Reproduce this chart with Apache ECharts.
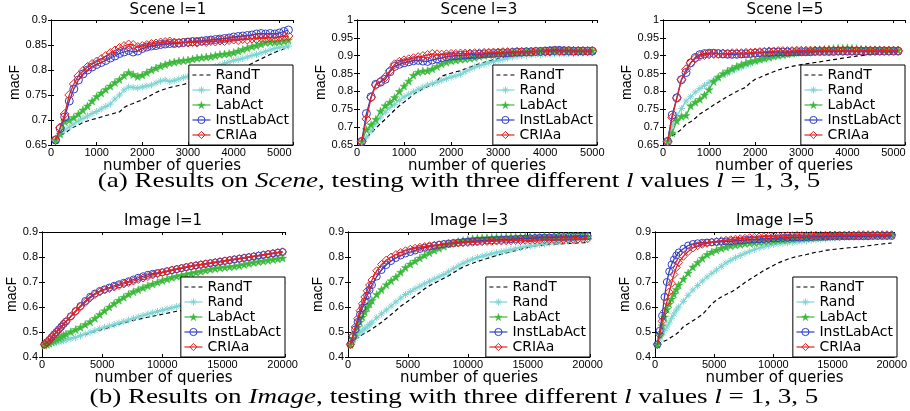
<!DOCTYPE html>
<html><head><meta charset="utf-8">
<script src="https://cdn.jsdelivr.net/npm/echarts@6/dist/echarts.min.js"></script>
<style>html,body{margin:0;padding:0;background:#fff}#c{width:910px;height:411px}</style>
</head><body><div id="c"></div>
<script>
const seriesNames = ['RandT','Rand','LabAct','InstLabAct','CRIAa'];

// number of queries (x values)
const sceneQueries = [100,200,300,400,500,600,700,800,900,1000,1100,1200,1300,1400,1500,1600,1700,1800,1900,2000,2100,2200,2300,2400,2500,2600,2700,2800,2900,3000,3100,3200,3300,3400,3500,3600,3700,3800,3900,4000,4100,4200,4300,4400,4500,4600,4700,4800,4900,5000,5100,5200];
const imageQueries = [200,400,600,800,1000,1200,1400,1600,1800,2000,2400,2800,3200,3600,4000,4400,4800,5200,5600,6000,6400,6800,7200,7600,8000,8400,8800,9200,9600,10000,10400,10800,11200,11600,12000,12400,12800,13200,13600,14000,14400,14800,15200,15600,16000,16400,16800,17200,17600,18000,18400,18800,19200,19600,20000];

// Scene l=1
const s1RandT = [.660,.668,.674,.680,.686,.690,.695,.698,.701,.703,.706,.709,.711,.714,.716,.725,.730,.733,.737,.740,.745,.750,.755,.759,.762,.765,.767,.769,.771,.774,.776,.778,.780,.782,.784,.786,.789,.791,.794,.797,.801,.805,.809,.813,.818,.822,.827,.831,.835,.839,.842,.845];
const s1Rand = [.660,.672,.680,.686,.692,.698,.703,.708,.713,.717,.722,.727,.732,.742,.750,.760,.766,.765,.764,.766,.768,.770,.774,.778,.780,.777,.779,.782,.785,.787,.791,.795,.799,.801,.804,.807,.810,.813,.816,.819,.821,.823,.826,.829,.831,.834,.837,.840,.843,.845,.846,.848];
const s1LabAct = [.660,.672,.697,.700,.705,.712,.720,.728,.738,.747,.754,.761,.768,.775,.781,.789,.795,.791,.787,.790,.795,.800,.804,.808,.811,.814,.816,.818,.819,.820,.822,.824,.825,.826,.827,.829,.831,.832,.833,.835,.838,.841,.844,.847,.849,.852,.855,.856,.856,.857,.858,.860];
const s1InstLabAct = [.660,.683,.706,.738,.762,.780,.792,.800,.806,.811,.815,.819,.824,.828,.833,.836,.839,.836,.838,.843,.846,.848,.849,.851,.852,.853,.853,.854,.855,.856,.857,.857,.858,.859,.860,.861,.862,.863,.864,.866,.867,.868,.869,.870,.872,.873,.872,.873,.872,.874,.877,.880];
const s1CRIAa = [.660,.685,.712,.750,.772,.788,.798,.806,.812,.817,.822,.828,.834,.839,.844,.848,.851,.850,.846,.848,.850,.852,.853,.855,.856,.857,.855,.854,.855,.855,.856,.855,.857,.856,.858,.857,.859,.858,.860,.861,.860,.862,.861,.863,.862,.864,.863,.865,.864,.866,.867,.868];

// Scene l=3
const s3RandT = [.660,.672,.683,.697,.710,.722,.735,.748,.760,.770,.780,.792,.800,.808,.813,.818,.830,.843,.847,.851,.855,.858,.863,.868,.873,.877,.881,.885,.889,.892,.895,.898,.900,.902,.904,.905,.906,.907,.908,.909,.909,.910,.910,.911,.911,.911,.912,.912,.912,.912];
const s3Rand = [.660,.672,.690,.710,.728,.742,.755,.764,.775,.785,.792,.799,.806,.812,.818,.822,.826,.831,.836,.840,.844,.848,.855,.862,.868,.872,.876,.880,.884,.887,.890,.893,.896,.898,.900,.901,.902,.903,.903,.904,.904,.905,.905,.905,.906,.906,.907,.907,.908,.908];
const s3LabAct = [.660,.693,.707,.722,.745,.760,.770,.783,.800,.815,.829,.845,.854,.857,.858,.863,.870,.877,.882,.886,.888,.890,.891,.893,.895,.898,.901,.903,.904,.906,.907,.908,.909,.909,.910,.911,.912,.912,.913,.914,.915,.915,.916,.916,.915,.915,.914,.914,.914,.914];
const s3InstLabAct = [.660,.738,.785,.820,.826,.834,.855,.870,.876,.880,.883,.886,.887,.885,.884,.888,.891,.894,.897,.899,.900,.901,.902,.903,.903,.904,.905,.906,.906,.907,.908,.908,.909,.910,.910,.911,.911,.912,.912,.913,.914,.915,.915,.914,.914,.913,.913,.913,.913,.913];
const s3CRIAa = [.660,.723,.783,.818,.828,.840,.858,.876,.883,.887,.890,.893,.896,.899,.902,.905,.904,.903,.904,.905,.905,.906,.906,.906,.907,.907,.908,.908,.909,.909,.910,.910,.910,.911,.911,.911,.911,.912,.912,.912,.912,.913,.913,.913,.913,.913,.913,.913,.913,.913];

// Scene l=5
const s5RandT = [.660,.675,.684,.694,.708,.715,.725,.737,.745,.753,.762,.770,.778,.786,.793,.800,.806,.812,.825,.834,.839,.845,.850,.855,.860,.864,.867,.870,.873,.875,.877,.879,.881,.883,.885,.887,.889,.891,.893,.895,.897,.899,.900,.902,.904,.906,.908,.909,.910,.911,.912];
const s5Rand = [.660,.705,.733,.752,.773,.785,.798,.808,.817,.825,.832,.839,.845,.851,.857,.863,.868,.873,.878,.883,.887,.891,.894,.897,.900,.902,.904,.906,.907,.908,.909,.910,.911,.911,.912,.912,.913,.913,.913,.914,.914,.914,.914,.915,.915,.915,.915,.915,.915,.915,.915];
const s5LabAct = [.660,.684,.718,.730,.733,.760,.770,.778,.790,.805,.828,.840,.850,.857,.864,.870,.875,.880,.884,.887,.890,.893,.896,.899,.901,.903,.905,.907,.909,.911,.913,.915,.916,.917,.918,.919,.920,.921,.921,.922,.921,.920,.919,.918,.917,.917,.917,.916,.916,.916,.916];
const s5InstLabAct = [.660,.734,.782,.833,.853,.880,.895,.903,.906,.907,.907,.906,.905,.904,.904,.904,.905,.905,.906,.907,.908,.909,.909,.910,.910,.910,.910,.911,.911,.911,.911,.911,.912,.912,.912,.912,.912,.913,.913,.913,.913,.913,.913,.913,.913,.913,.913,.913,.913,.913,.913];
const s5CRIAa = [.660,.727,.782,.833,.862,.880,.892,.899,.902,.904,.905,.905,.906,.906,.907,.907,.907,.908,.908,.909,.910,.911,.912,.912,.913,.913,.913,.913,.914,.914,.914,.914,.914,.914,.914,.914,.914,.914,.914,.914,.914,.914,.914,.914,.914,.914,.914,.914,.914,.914,.914];

// Image l=1
const i1RandT = [.447,.450,.452,.455,.457,.460,.462,.465,.467,.470,.475,.480,.485,.490,.496,.502,.507,.513,.519,.525,.531,.537,.542,.547,.551,.555,.559,.563,.567,.571,.575,.579,.583,.586,.589,.593,.597,.601,.605,.610,.615,.620,.625,.630,.635,.640,.645,.650,.655,.660,.665,.670,.676,.682,.688];
const i1Rand = [.447,.450,.452,.454,.456,.459,.461,.463,.465,.468,.473,.478,.485,.492,.499,.506,.513,.519,.524,.530,.536,.542,.548,.554,.560,.566,.572,.577,.582,.587,.592,.597,.602,.607,.612,.616,.620,.624,.628,.632,.636,.640,.644,.648,.652,.656,.660,.664,.668,.672,.676,.680,.685,.691,.697];
const i1LabAct = [.447,.451,.455,.461,.466,.471,.476,.481,.487,.492,.501,.510,.519,.530,.541,.555,.570,.585,.600,.614,.627,.639,.651,.661,.669,.677,.685,.692,.699,.706,.712,.718,.723,.727,.731,.735,.739,.743,.747,.751,.754,.757,.759,.761,.763,.766,.770,.774,.778,.781,.784,.787,.790,.793,.796];
const i1InstLabAct = [.450,.459,.468,.479,.490,.500,.510,.521,.532,.542,.563,.584,.604,.624,.641,.654,.664,.671,.678,.685,.691,.697,.703,.710,.717,.723,.729,.733,.736,.739,.743,.747,.751,.755,.759,.763,.766,.769,.772,.775,.778,.781,.784,.787,.790,.793,.796,.799,.802,.805,.808,.811,.814,.817,.820];
const i1CRIAa = [.450,.459,.468,.479,.490,.500,.510,.521,.532,.542,.562,.582,.601,.619,.636,.650,.660,.668,.674,.680,.686,.692,.698,.704,.710,.716,.722,.728,.733,.738,.743,.748,.752,.756,.760,.764,.767,.770,.773,.776,.779,.782,.785,.788,.791,.794,.797,.800,.803,.806,.809,.812,.815,.818,.821];

// Image l=3
const i3RandT = [.450,.461,.470,.477,.484,.490,.495,.500,.506,.512,.525,.539,.554,.570,.586,.603,.617,.630,.644,.658,.673,.685,.695,.705,.715,.725,.737,.749,.760,.768,.775,.782,.788,.794,.800,.806,.811,.816,.821,.826,.831,.836,.840,.844,.846,.848,.850,.851,.852,.853,.854,.855,.856,.857,.858];
const i3Rand = [.450,.463,.475,.486,.497,.505,.513,.521,.530,.539,.557,.573,.588,.604,.620,.636,.650,.662,.673,.683,.693,.703,.712,.721,.730,.741,.753,.764,.775,.784,.791,.798,.803,.808,.813,.817,.821,.825,.829,.833,.837,.841,.844,.847,.850,.853,.856,.858,.860,.862,.864,.867,.869,.871,.874];
const i3LabAct = [.450,.474,.497,.519,.540,.560,.580,.597,.612,.626,.650,.670,.689,.705,.720,.739,.758,.772,.784,.796,.807,.817,.827,.835,.843,.851,.857,.862,.866,.870,.873,.875,.876,.877,.878,.879,.879,.880,.880,.880,.881,.881,.881,.881,.882,.882,.882,.882,.883,.883,.883,.883,.883,.883,.883];
const i3InstLabAct = [.450,.480,.510,.540,.570,.597,.623,.646,.668,.688,.722,.748,.768,.784,.796,.806,.814,.820,.826,.832,.837,.841,.845,.849,.852,.854,.856,.858,.860,.861,.863,.864,.865,.866,.867,.868,.869,.870,.871,.872,.873,.874,.875,.876,.877,.878,.878,.879,.880,.880,.881,.881,.882,.882,.883];
const i3CRIAa = [.450,.485,.520,.553,.585,.613,.640,.665,.688,.708,.745,.770,.788,.800,.810,.818,.825,.831,.835,.839,.842,.845,.847,.849,.851,.853,.855,.856,.857,.858,.859,.860,.861,.862,.863,.864,.864,.865,.865,.866,.866,.867,.867,.868,.868,.869,.869,.870,.870,.870,.871,.871,.872,.872,.873];

// Image l=5
const i5RandT = [.450,.455,.460,.464,.468,.474,.480,.486,.492,.500,.521,.533,.545,.557,.570,.590,.612,.628,.640,.650,.659,.670,.684,.698,.710,.722,.734,.746,.756,.766,.776,.784,.791,.797,.802,.806,.810,.815,.819,.822,.826,.829,.831,.833,.835,.837,.838,.840,.842,.845,.847,.850,.852,.854,.856];
const i5Rand = [.450,.468,.488,.505,.520,.537,.555,.572,.588,.600,.623,.647,.668,.686,.704,.720,.735,.748,.763,.776,.787,.797,.806,.815,.823,.830,.836,.841,.846,.850,.853,.855,.857,.859,.861,.863,.865,.867,.869,.871,.873,.875,.877,.878,.879,.880,.881,.882,.883,.884,.885,.885,.886,.886,.887];
const i5LabAct = [.450,.490,.525,.560,.590,.612,.632,.652,.670,.688,.712,.736,.760,.778,.795,.810,.820,.828,.835,.840,.845,.848,.851,.854,.856,.858,.860,.862,.864,.866,.868,.869,.871,.872,.874,.875,.876,.877,.879,.880,.881,.882,.883,.884,.884,.885,.886,.886,.887,.887,.888,.888,.888,.889,.889];
const i5InstLabAct = [.450,.505,.565,.640,.700,.742,.770,.790,.806,.818,.833,.846,.852,.855,.857,.858,.859,.860,.861,.862,.863,.865,.866,.868,.869,.870,.871,.872,.873,.874,.875,.876,.877,.878,.879,.879,.880,.880,.881,.881,.881,.882,.882,.882,.883,.883,.883,.883,.883,.883,.884,.884,.884,.884,.884];
const i5CRIAa = [.450,.490,.543,.582,.620,.660,.695,.730,.758,.778,.803,.822,.836,.845,.851,.855,.859,.862,.865,.867,.869,.871,.873,.875,.877,.879,.880,.881,.882,.883,.884,.884,.885,.885,.886,.886,.886,.887,.887,.887,.887,.888,.888,.888,.888,.888,.888,.889,.889,.889,.889,.889,.889,.889,.889];

// layout / styling
const panels = [
  {title:'Scene l=1', q:sceneQueries, vals:[s1RandT,s1Rand,s1LabAct,s1InstLabAct,s1CRIAa], grid:{left:51,top:20,width:242,height:125}, xMax:5300, xInt:1000, yMin:0.65, yMax:0.9, yInt:0.05, tx:168, ty:10.5, yGap:28, xGap:6, big:true},
  {title:'Scene l=3', q:sceneQueries, vals:[s3RandT,s3Rand,s3LabAct,s3InstLabAct,s3CRIAa], grid:{left:357,top:20,width:240,height:125}, xMax:5100, xInt:1000, yMin:0.65, yMax:1, yInt:0.05, tx:479, ty:10.5, yGap:29, xGap:6, big:true},
  {title:'Scene l=5', q:sceneQueries, vals:[s5RandT,s5Rand,s5LabAct,s5InstLabAct,s5CRIAa], grid:{left:663,top:20,width:242,height:125}, xMax:5250, xInt:1000, yMin:0.65, yMax:1, yInt:0.05, tx:785, ty:10.5, yGap:27, xGap:6, big:true},
  {title:'Image l=1', q:imageQueries, vals:[i1RandT,i1Rand,i1LabAct,i1InstLabAct,i1CRIAa], grid:{left:42,top:232,width:243,height:125}, xMax:20200, xInt:5000, yMin:0.4, yMax:0.9, yInt:0.1, tx:163, ty:221, yGap:19, xGap:5, big:false},
  {title:'Image l=3', q:imageQueries, vals:[i3RandT,i3Rand,i3LabAct,i3InstLabAct,i3CRIAa], grid:{left:348,top:232,width:242,height:125}, xMax:20200, xInt:5000, yMin:0.4, yMax:0.9, yInt:0.1, tx:469, ty:221, yGap:20, xGap:5, big:false},
  {title:'Image l=5', q:imageQueries, vals:[i5RandT,i5Rand,i5LabAct,i5InstLabAct,i5CRIAa], grid:{left:655,top:232,width:242,height:125}, xMax:20200, xInt:5000, yMin:0.4, yMax:0.9, yInt:0.1, tx:775, ty:221, yGap:20, xGap:5, big:false}
];

const ASTERISK = 'path://M5,0L5,10M0,5L10,5M1.6,1.6L8.4,8.4M8.4,1.6L1.6,8.4';
const STAR = 'path://M5,0L6.2,3.7L10,3.7L6.9,6L8.1,9.6L5,7.4L1.9,9.6L3.1,6L0,3.7L3.8,3.7Z';
const CLEAR = 'rgba(255,255,255,0)';
const STYLE = {
  RandT:      {color:'#000000', symbol:'none', dash:[4,3], width:1.2},
  Rand:       {color:'#7fd4d2', symbol:ASTERISK, hollow:true, size:7, sizeS:7, width:1.3},
  LabAct:     {color:'#3cb83c', symbol:STAR, hollow:false, size:8, sizeS:8, width:1.3},
  InstLabAct: {color:'#2f3fc8', symbol:'circle', hollow:true, size:8, sizeS:7, width:1.3},
  CRIAa:      {color:'#e42222', symbol:'diamond', hollow:true, size:9, sizeS:8, width:1.3}
};
function markerStyle(st){
  if (st.symbol === 'none') return {color:CLEAR, borderColor:CLEAR, borderWidth:0};
  return st.hollow ? {color:CLEAR, borderColor:st.color, borderWidth:1}
                   : {color:st.color, borderColor:st.color, borderWidth:0.5};
}

const grids=[], xAxes=[], yAxes=[], series=[], legends=[], graphics=[];
const FONT = 'Liberation Sans';
panels.forEach((p,k)=>{
  grids.push(Object.assign({}, p.grid));
  const line = {show:true, lineStyle:{color:'#000', width:1}};
  const tick = {show:true, inside:true, length:3, lineStyle:{color:'#000', width:1}};
  xAxes.push({type:'value', gridIndex:k, min:0, max:p.xMax, interval:p.xInt, position:'bottom',
    axisLine:line, axisTick:tick, splitLine:{show:false},
    axisLabel:{fontSize:11, color:'#000', fontFamily:FONT, margin:2, formatter:v=> (v % p.xInt === 0 ? String(v) : '')},
    name:'number of queries', nameLocation:'middle', nameGap:p.xGap,
    nameTextStyle:{fontSize:15, color:'#000', fontFamily:'DejaVu Sans', verticalAlign:'top'}});
  xAxes.push({type:'value', gridIndex:k, min:0, max:p.xMax, interval:p.xInt, position:'top',
    axisLine:line, axisTick:tick, splitLine:{show:false}, axisLabel:{show:false}});
  yAxes.push({type:'value', gridIndex:k, min:p.yMin, max:p.yMax, interval:p.yInt, position:'left',
    axisLine:line, axisTick:tick, splitLine:{show:false},
    axisLabel:{fontSize:11, color:'#000', fontFamily:FONT, margin:4},
    name:'macF', nameLocation:'middle', nameGap:p.yGap,
    nameTextStyle:{fontSize:14, color:'#000', fontFamily:FONT}});
  yAxes.push({type:'value', gridIndex:k, min:p.yMin, max:p.yMax, interval:p.yInt, position:'right',
    axisLine:line, axisTick:tick, splitLine:{show:false}, axisLabel:{show:false}});
  seriesNames.forEach((nm,j)=>{
    const st = STYLE[nm];
    const vals = p.vals[j];
    const hasSym = st.symbol !== 'none';
    series.push({
      type:'line', name:nm, xAxisIndex:2*k, yAxisIndex:2*k,
      data: vals.map((v,i)=>[p.q[i], v]),
      symbol: st.symbol, symbolSize: hasSym ? (p.big ? st.size : st.sizeS) : 0,
      showSymbol: hasSym,
      lineStyle:{color:st.color, width:st.width, type: st.dash || 'solid'},
      itemStyle: markerStyle(st),
      emphasis:{disabled:true}, animation:false, z:2+j
    });
  });
  legends.push({
    orient:'vertical', right: 910 - (p.grid.left + p.grid.width), bottom: 411 - (p.grid.top + p.grid.height),
    data: seriesNames.map(nm=>{
      const st = STYLE[nm];
      return {name:nm, itemStyle: markerStyle(st),
        lineStyle:{color:st.color, width:1.2, type: st.dash || 'solid'}};
    }),
    selectedMode:false, itemWidth:18, itemHeight:9, itemGap:1,
    padding:[3,4,3,3], borderColor:'#000', borderWidth:1, backgroundColor:'#fff', borderRadius:0,
    textStyle:{fontFamily:'DejaVu Sans', fontSize:14, color:'#000', lineHeight:12.5}, z:10
  });
  graphics.push({type:'text', x:p.tx, y:p.ty, z:20,
    style:{text:p.title, fontSize:15, fontFamily:'DejaVu Sans', fill:'#000', align:'center', verticalAlign:'middle'}});
});

const capRich = {i:{fontStyle:'italic', fontSize:21, fontFamily:'Liberation Serif', fill:'#000'}};
graphics.push({type:'text', x:459, y:181, scaleX:1.29, z:20, style:{text:'(a) Results on {i|Scene}, testing with three different {i|l} values {i|l} = 1, 3, 5',
  fontSize:21, fontFamily:'Liberation Serif', fill:'#000', align:'center', verticalAlign:'middle', rich:capRich}});
graphics.push({type:'text', x:454, y:397, scaleX:1.29, z:20, style:{text:'(b) Results on {i|Image}, testing with three different {i|l} values {i|l} = 1, 3, 5',
  fontSize:21, fontFamily:'Liberation Serif', fill:'#000', align:'center', verticalAlign:'middle', rich:capRich}});

const chart = echarts.init(document.getElementById('c'), null, {renderer:'canvas'});
chart.setOption({
  animation:false, backgroundColor:'#fff',
  textStyle:{fontFamily:FONT},
  grid:grids, xAxis:xAxes, yAxis:yAxes, series:series, legend:legends, graphic:graphics
});
</script></body></html>
